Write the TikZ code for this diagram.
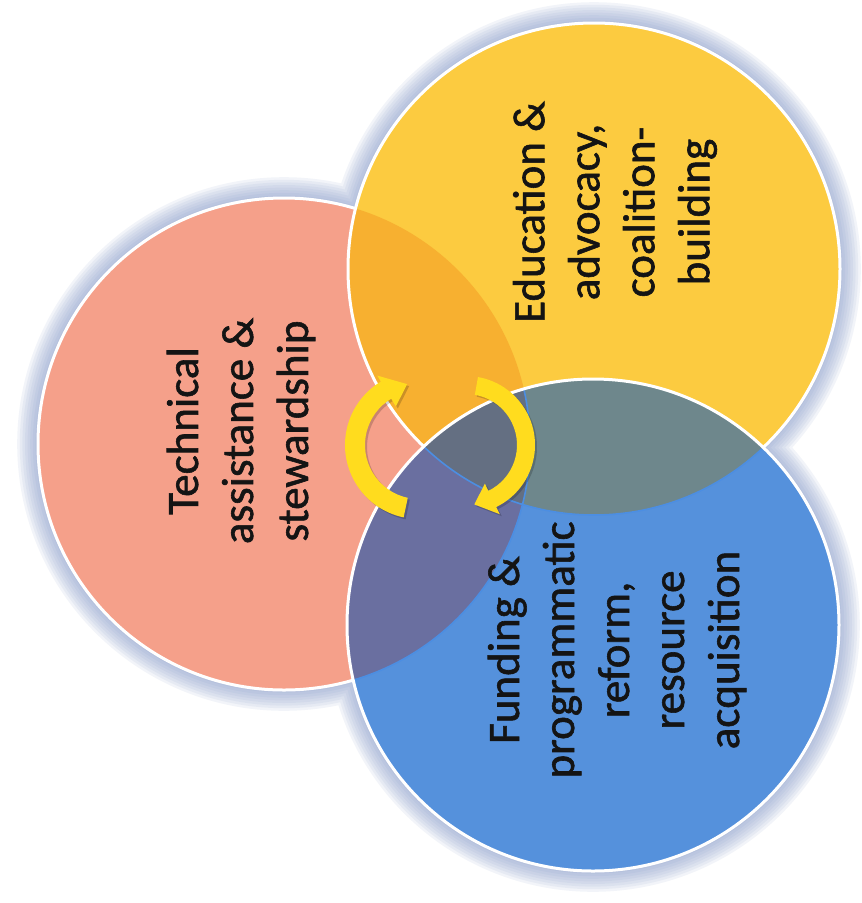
\documentclass[tikz,border=0pt]{standalone}
\usepackage{fontspec}
\setmainfont{Carlito}
\newfontfamily\lblfont{Carlito}[FakeBold=1.3]
\definecolor{redc}{HTML}{F5A08A}
\definecolor{yelc}{HTML}{FCCB40}
\definecolor{bluc}{HTML}{5591DC}
\definecolor{ryc}{HTML}{F7B030}
\definecolor{ybc}{HTML}{6E878C}
\definecolor{rbc}{HTML}{6A6FA0}
\definecolor{rybc}{HTML}{646F82}
\definecolor{arrc}{HTML}{FFDC1E}
\definecolor{shadc}{HTML}{8A9ECB}
\definecolor{edgec}{HTML}{4C8EE2}
\begin{document}
\begin{tikzpicture}[x=1pt,y=1pt,
  rim/.style={draw=white,line width=3pt},
  lbl/.style={rotate=90,align=center,text=black!92,font=\lblfont\fontsize{45}{55}\selectfont,inner sep=0pt}]
\useasboundingbox (0,0) rectangle (862,-903);
\fill[white] (0,0) rectangle (862,-903);
\coordinate (R) at (284,-444);
\coordinate (Y) at (594,-269);
\coordinate (B) at (593,-625);
\def\rad{246}
% soft shadow
\foreach \k in {1,...,8}{
  \fill[shadc,opacity=0.11,shift={(-6,6)}]
    (R) circle[radius=\rad+2.6*\k] (Y) circle[radius=\rad+2.6*\k] (B) circle[radius=\rad+2.6*\k];
}
% red circle
\fill[redc] (R) circle[radius=\rad];
\draw[rim] (R) circle[radius=\rad];
% yellow circle
\fill[yelc] (Y) circle[radius=\rad];
\begin{scope}
  \clip (R) circle[radius=\rad];
  \fill[ryc] (Y) circle[radius=\rad];
\end{scope}
\draw[rim] (Y) circle[radius=\rad];
% blue circle
\fill[bluc] (B) circle[radius=\rad];
\begin{scope}
  \clip (B) circle[radius=\rad];
  \fill[rbc] (R) circle[radius=\rad];
  \fill[ybc] (Y) circle[radius=\rad];
  \clip (R) circle[radius=\rad];
  \fill[rybc] (Y) circle[radius=\rad];
\end{scope}
\begin{scope}
  \clip (B) circle[radius=\rad];
  \draw[edgec,line width=1.6pt] (R) circle[radius=\rad] (Y) circle[radius=\rad];
\end{scope}
\draw[rim] (B) circle[radius=\rad];
% labels
\node[lbl] (tech) at (241,-431) {Technical\\assistance \&\\stewardship};
\node[lbl] (educ) at (615,-212) {Education \&\\advocacy,\\coalition-\\building};
\node[lbl] (fund) at (617,-650) {Funding \&\\programmatic\\reform,\\resource\\acquisition};
% cycle arrows
\coordinate (LA) at (419,-445);
\coordinate (RA) at (466,-445);
\begin{scope}[shift={(LA)}]
  \fill[black,opacity=0.18,shift={(2,-2)}] (258:74) arc[start angle=258,end angle=121,radius=74] -- (121:81) -- (101:62) -- (121:45) -- (121:54) arc[start angle=121,end angle=258,radius=54] -- cycle;
  \fill[arrc] (258:74) arc[start angle=258,end angle=121,radius=74] -- (121:81) -- (101:62) -- (121:45) -- (121:54) arc[start angle=121,end angle=258,radius=54] -- cycle;
\end{scope}
\begin{scope}[shift={(RA)}]
  \fill[black,opacity=0.18,shift={(2,-2)}] (80:69) arc[start angle=80,end angle=-64,radius=69] -- (-64:77) -- (-82:60) -- (-64:43) -- (-64:51) arc[start angle=-64,end angle=80,radius=51] -- cycle;
  \fill[arrc] (80:69) arc[start angle=80,end angle=-64,radius=69] -- (-64:77) -- (-82:60) -- (-64:43) -- (-64:51) arc[start angle=-64,end angle=80,radius=51] -- cycle;
\end{scope}
\end{tikzpicture}
\end{document}
